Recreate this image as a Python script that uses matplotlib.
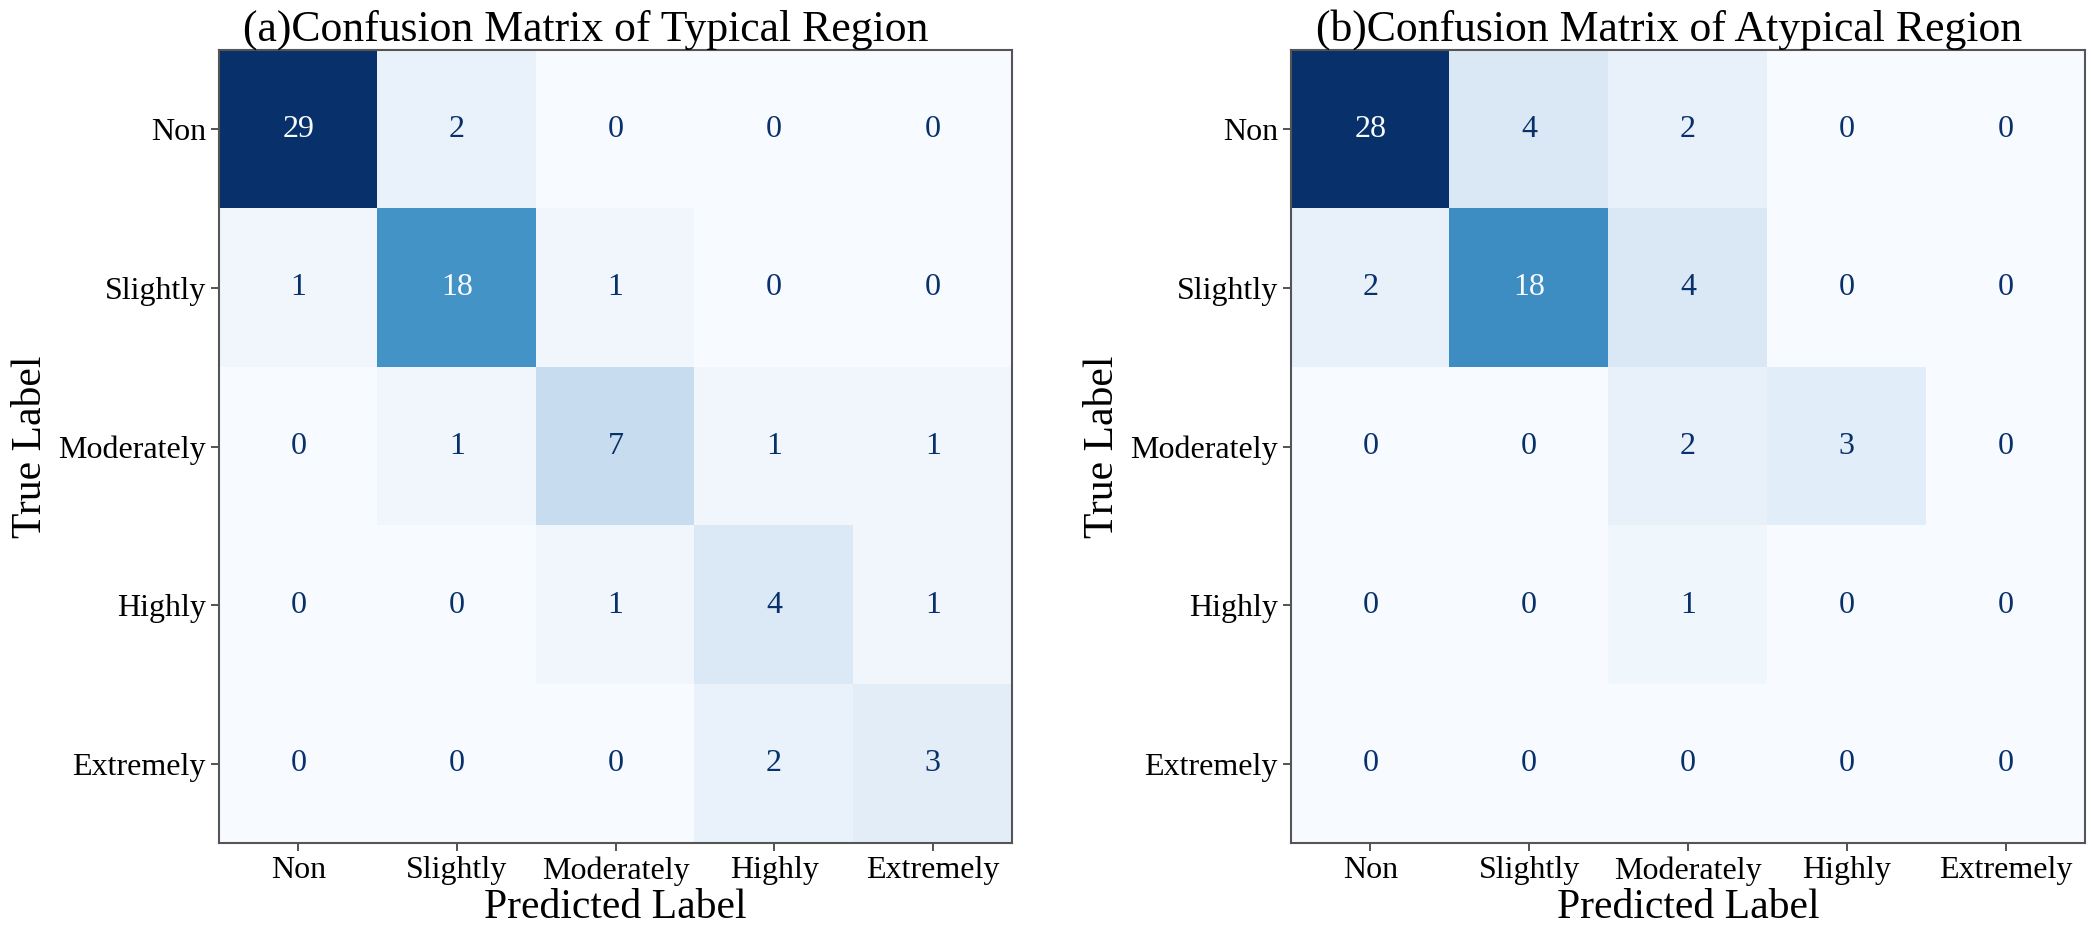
import numpy as np
import matplotlib
matplotlib.use("Agg")
import matplotlib.pyplot as plt

labels = ["Non", "Slightly", "Moderately", "Highly", "Extremely"]
cm_typical = [
    [29, 2, 0, 0, 0],
    [1, 18, 1, 0, 0],
    [0, 1, 7, 1, 1],
    [0, 0, 1, 4, 1],
    [0, 0, 0, 2, 3],
]
cm_atypical = [
    [28, 4, 2, 0, 0],
    [2, 18, 4, 0, 0],
    [0, 0, 2, 3, 0],
    [0, 0, 1, 0, 0],
    [0, 0, 0, 0, 0],
]
titles = ["(a)Confusion Matrix of Typical Region", "(b)Confusion Matrix of Atypical Region"]

plt.rcParams['font.family'] = ['Liberation Serif', 'DejaVu Serif']

fig = plt.figure(figsize=(20.91, 9.34), dpi=100)
W, H = 2091, 934
axes_px = [(219, 50, 793, 793), (1291, 50, 794, 793)]
title_x = [0.463, 0.476]
cmap = plt.get_cmap("Blues")

for (x0, y0, w, h), cm, title, tx in zip(axes_px, [cm_typical, cm_atypical], titles, title_x):
    ax = fig.add_axes([x0 / W, (H - y0 - h) / H, w / W, h / H])
    m = np.array(cm)
    ax.imshow(m, cmap=cmap, vmin=m.min(), vmax=m.max(), interpolation="nearest", aspect="auto")
    thresh = (m.max() + m.min()) / 2.0
    for i in range(m.shape[0]):
        for j in range(m.shape[1]):
            color = cmap(0.0) if m[i, j] > thresh else cmap(1.0)
            ax.text(j, i, str(m[i, j]), ha="center", va="center", color=color, fontsize=23)
    ax.set_xticks(range(len(labels)))
    ax.set_yticks(range(len(labels)))
    ax.set_xticklabels(labels, fontsize=23)
    ax.set_yticklabels(labels, fontsize=23)
    ax.tick_params(length=6, width=1.3, color="#444444")
    for sp in ax.spines.values():
        sp.set_color("#555555")
        sp.set_linewidth(1.5)
    ax.set_xlabel("Predicted Label", fontsize=30, labelpad=2)
    ax.set_ylabel("True Label", fontsize=30, labelpad=6)
    ax.set_title(title, fontsize=31.5, pad=3, x=tx)

fig.savefig("out.png", dpi=100)
